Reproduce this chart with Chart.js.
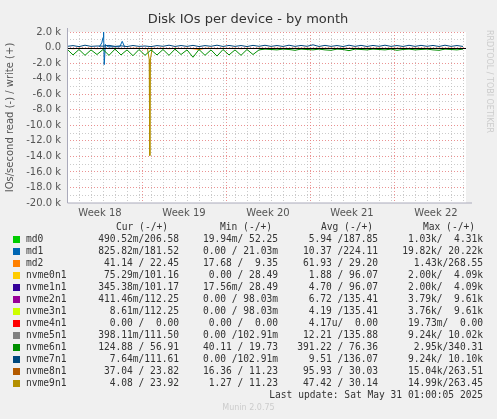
<!DOCTYPE html>
<html><head><meta charset="utf-8">
<script src="https://cdn.jsdelivr.net/npm/chart.js@4/dist/chart.umd.min.js"></script>
<style>
body{margin:0;background:#f0f0f0;width:497px;height:419px;overflow:hidden;position:relative;font-family:"DejaVu Sans Mono",monospace}
canvas{position:absolute;left:0;top:0}
.t{position:absolute;font-size:9.6px;color:#333;white-space:pre;line-height:12px}
.sq{position:absolute;width:7px;height:7px}
</style></head><body>
<canvas id="c" width="497" height="419"></canvas>
<div id="leg"></div>
<script>
const days=[0,0.5,1,1.5,2,2.5,3,3.5,4,4.5,5,5.5,6,6.5,7,7.5,8,8.5,9,9.5,10,10.5,11,11.5,12,12.5,13,13.5,14,14.5,15,15.5,16,16.5,17,17.5,18,18.5,19,19.5,20,20.5,21,21.5,22,22.5,23,23.5,24,24.5,25,25.5,26,26.5,27,27.5,28,28.5,29,29.5,30,30.5,31,31.5,32,32.5,33];
const nvme6Read=[-200,-950,-250,-1000,-300,-900,-250,-1000,-200,-950,-300,-1050,-250,-1000,-300,-950,-250,-1000,-200,-900,-300,-1250,-250,-1000,-300,-1100,-250,-950,-300,-1000,-250,-900,-300,-200,-250,-300,-200,-250,-350,-200,-250,-300,-200,-300,-350,-200,-250,-400,-200,-250,-300,-200,-250,-300,-200,-350,-250,-200,-300,-250,-200,-300,-350,-200,-250,-300,-200];
const nvme7Write=[150,250,120,300,150,200,180,280,150,220,130,260,150,200,120,250,160,300,140,260,150,280,130,250,160,300,140,270,150,260,130,280,160,290,150,260,140,300,150,270,160,350,140,280,150,260,130,300,150,280,140,270,160,300,150,260,140,290,150,280,160,270,140,300,150,260,140];
const md2Read=[-100,-150,-100,-120,-100,-150,-100,-130,-100,-150,-120,-100,-100,-150,-100,-120,-100,-150,-100,-130,-100,-150,-250,-100,-100,-150,-100,-120,-100,-150,-100,-130,-100,-120,-100,-110,-100,-120,-100,-110,-100,-120,-100,-110,-100,-120,-100,-110,-100,-120,-100,-110,-100,-120,-100,-110,-100,-120,-100,-110,-100,-120,-100,-110,-100,-120,-100];
const md1SpikeDays=[2.7,2.9,3.0,3.05,3.1,3.2,3.4,4.4,4.6,4.8];
const md1SpikeVals=[100,600,1300,2000,-2200,400,100,100,800,100];
const nvme9SpikeDays=[6.7,6.85,6.9,6.95,7.1];
const nvme9SpikeVals=[-100,-1500,-13900,-1500,-100];
const yTicks=[2000,0,-2000,-4000,-6000,-8000,-10000,-12000,-14000,-16000,-18000,-20000];
const weekLabels=["Week 18","Week 19","Week 20","Week 21","Week 22"];
const weekMid=[2.75,9.75,16.75,23.75,30.75];
const weekBound=[6.25,13.25,20.25,27.25];

const names=["md0","md1","md2","nvme0n1","nvme1n1","nvme2n1","nvme3n1","nvme4n1","nvme5n1","nvme6n1","nvme7n1","nvme8n1","nvme9n1"];
const colors=["#00cc00","#0066b3","#ff8000","#ffcc00","#330099","#990099","#ccff00","#ff0000","#808080","#008f00","#00487d","#b35a00","#b38f00"];
const cur=["490.52m/206.58","825.82m/181.52","41.14 / 22.45","75.29m/101.16","345.38m/101.17","411.46m/112.25","8.61m/112.25","0.00 /  0.00","398.11m/111.50","124.88 / 56.91","7.64m/111.61","37.04 / 23.82","4.08 / 23.92"];
const mn=["19.94m/ 52.25","0.00 / 21.03m","17.68 /  9.35","0.00 / 28.49","17.56m/ 28.49","0.00 / 98.03m","0.00 / 98.03m","0.00 /  0.00","0.00 /102.91m","40.11 / 19.73","0.00 /102.91m","16.36 / 11.23","1.27 / 11.23"];
const avg=["5.94 /187.85","10.37 /224.11","61.93 / 29.20","1.88 / 96.07","4.70 / 96.07","6.72 /135.41","4.19 /135.41","4.17u/  0.00","12.21 /135.88","391.22 / 76.36","9.51 /136.07","95.93 / 30.03","47.42 / 30.14"];
const mx=["1.03k/  4.31k","19.82k/ 20.22k","1.43k/268.55","2.00k/  4.09k","2.00k/  4.09k","3.79k/  9.61k","3.76k/  9.61k","19.73m/  0.00","9.24k/ 10.02k","2.95k/340.31","9.24k/ 10.10k","15.04k/263.51","14.99k/263.45"];

let h='';
function t(x,y,s,align,col){h+=`<div class="t" style="${align==='r'?'right:'+(497-x)+'px':'left:'+x+'px'};top:${y}px;${col?'color:'+col:''}">${s}</div>`;}
t(168,221,"Cur (-/+)",'r');t(272,221,"Min (-/+)",'r');t(373,221,"Avg (-/+)",'r');t(475,221,"Max (-/+)",'r');
names.forEach((n,i)=>{const y=233+i*12;
 h+=`<div class="sq" style="left:13px;top:${y+3}px;background:${colors[i]}"></div>`;
 t(26,y,n);t(179,y,cur[i],'r');t(278,y,mn[i],'r');t(378,y,avg[i],'r');t(483,y,mx[i],'r');});
t(483,389,"Last update: Sat May 31 01:00:05 2025",'r');
h+=`<div class="t" style="left:0;width:497px;text-align:center;top:402px;font-family:'DejaVu Sans';font-size:8px;color:#ccc">Munin 2.0.75</div>`;
document.getElementById('leg').innerHTML=h;

const pts=(xs,ys)=>xs.map((x,i)=>({x:x,y:ys[i]}));
const ds=(label,data,color)=>({label,data,borderColor:color,borderWidth:1,pointRadius:0,fill:false,tension:0});
const deco={id:'deco',
 beforeDraw(c){const g=c.ctx;g.save();g.fillStyle='#f0f0f0';g.fillRect(0,0,497,419);
  const a=c.chartArea;g.fillStyle='#fff';g.fillRect(a.left,a.top,a.right-a.left,a.bottom-a.top);g.restore();},
 afterDraw(c){const g=c.ctx,a=c.chartArea;g.save();
  g.fillStyle='#333';g.font='13px "DejaVu Sans"';g.textAlign='center';g.fillText('Disk IOs per device - by month',248,23);
  g.translate(13,(a.top+a.bottom)/2);g.rotate(-Math.PI/2);g.font='10px "DejaVu Sans"';g.fillStyle='#555';g.fillText('IOs/second read (-) / write (+)',0,0);
  g.setTransform(1,0,0,1,0,0);g.translate(487,30);g.rotate(Math.PI/2);g.textAlign='left';g.font='8px "DejaVu Sans"';g.fillStyle='#ccc';g.fillText('RRDTOOL / TOBI OETIKER',0,0);
  g.setTransform(1,0,0,1,0,0);g.strokeStyle='#000';g.lineWidth=1;const y0=c.scales.y.getPixelForValue(0);
  g.beginPath();g.moveTo(a.left,Math.round(y0)+0.5);g.lineTo(a.right,Math.round(y0)+0.5);g.stroke();
  g.strokeStyle='#aab';g.beginPath();g.moveTo(a.left+0.5,a.top-4);g.lineTo(a.left+0.5,a.bottom);g.lineTo(a.right+6,a.bottom);g.stroke();
  g.restore();}};
new Chart(document.getElementById('c'),{type:'line',
 data:{datasets:[
  ds('nvme6n1 read',pts(days,nvme6Read),'#008f00'),
  ds('md2 read',pts(days,md2Read),'#ff8000'),
  ds('nvme7n1 write',pts(days,nvme7Write),'#00487d'),
  ds('md1',pts(md1SpikeDays,md1SpikeVals),'#0066b3'),
  ds('nvme9n1',pts(nvme9SpikeDays,nvme9SpikeVals),'#b38f00')]},
 options:{responsive:false,animation:false,devicePixelRatio:1,
  layout:{padding:{top:32,right:31,left:0,bottom:0}},
  plugins:{legend:{display:false},tooltip:{enabled:false}},
  scales:{
   x:{type:'linear',min:0,max:33.25,border:{display:false,dash:[1,2]},
    afterFit(s){s.height=216;},
    afterBuildTicks(s){const t=[];for(let v=0;v<=33.25;v+=0.25)t.push({value:v});s.ticks=t;},
    grid:{drawTicks:false,lineWidth:1,
     color(ctx){const v=ctx.tick&&ctx.tick.value;if(v===undefined)return 'transparent';
      if(weekBound.includes(v))return 'rgba(230,120,120,0.8)';if(Number.isInteger(v)&&v>0)return 'rgba(190,190,190,0.8)';return 'transparent';}},
    ticks:{autoSkip:false,maxRotation:0,padding:4,color:'#555',font:{family:'DejaVu Sans',size:10},
     callback(v){const i=weekMid.indexOf(v);return i>=0?weekLabels[i]:'';}}},
   y:{min:-20000,max:2000,border:{display:false,dash:[1,2]},
    afterFit(s){s.width=67;},
    afterBuildTicks(s){const t=[];for(let v=2000;v>=-20000;v-=1000)t.push({value:v});s.ticks=t;},
    grid:{drawTicks:false,
     color(ctx){const v=ctx.tick&&ctx.tick.value;if(v===undefined||v===-20000)return 'transparent';return yTicks.includes(v)?'rgba(230,120,120,0.8)':'rgba(190,190,190,0.8)';}},
    ticks:{autoSkip:false,padding:6,color:'#555',font:{family:'DejaVu Sans',size:10},
     callback(v){if(!yTicks.includes(v))return '';return v===0?'0.0':(v/1000).toFixed(1)+' k';}}}}},
 plugins:[deco]});
</script></body></html>
